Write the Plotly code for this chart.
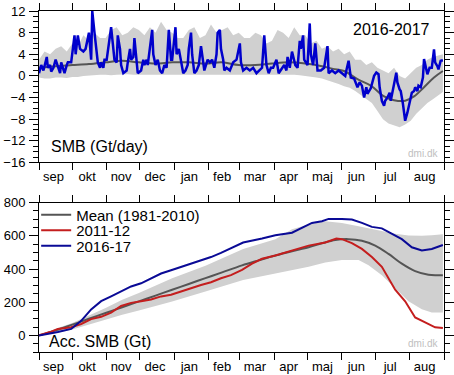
import plotly.graph_objects as go

# ---------------- data ----------------
MONTHS = ["sep", "okt", "nov", "dec", "jan", "feb", "mar", "apr", "maj", "jun", "jul", "aug"]
MONTH_LEN = [30, 31, 30, 31, 31, 28, 31, 30, 31, 30, 31, 31]

# daily SMB 2016-17 (day since 1 Sep, Gt/day)
SMB_DAYS = [0, 2, 4, 7, 8, 10, 11, 13, 15, 17, 19, 20, 22, 23, 25, 26, 29, 32, 33, 35, 37, 40, 42, 44, 45, 47,
            48, 50, 52, 53, 55, 56, 58, 59, 61, 64, 65, 67, 68, 70, 71, 73, 74, 76, 79, 80, 82, 83, 85, 86,
            88, 89, 92, 94, 95, 97, 98, 102, 103, 105, 107, 109, 111, 113, 115, 117, 119, 120, 123, 124,
            126, 128, 130, 132, 134, 135, 137, 138, 140, 142, 144, 146, 148, 149, 152, 154, 156, 158, 160,
            161, 163, 164, 166, 167, 169, 172, 175, 178, 181, 182, 184, 187, 190, 193, 196, 199, 201, 203,
            205, 207, 209, 211, 214, 216, 219, 221, 223, 224, 226, 228, 231, 233, 235, 236, 238, 239, 242,
            244, 245, 247, 249, 251, 254, 257, 260, 261, 264, 267, 270, 273, 276, 277, 279, 281, 284, 287,
            289, 291, 293, 295, 296, 299, 302, 304, 306, 307, 309, 311, 312, 314, 316, 317, 319, 320, 322,
            323, 325, 326, 328, 330, 332, 334, 336, 338, 339, 341, 342, 344, 346, 347, 349, 350, 352, 354,
            356, 357, 359, 360, 362, 364]
SMB_VALS = [0.5, 2.0, 1.0, 3.5, 1.5, 2.0, 0.8, 1.5, 3.0, 1.5, 0.5, 2.5, 1.0, 0.5, 2.0, 2.5, 2.5, 7.5, 4.0, 7.5, 5.0, 4.5, 5.0, 7.5, 8.0, 3.0,
            12.0, 8.0, 4.0, 2.5, 1.5, 2.5, 1.5, 3.0, 3.0, 7.0, 9.0, 5.0, 3.0, 2.5, 7.5, 5.0, 2.0, 0.5, 1.0, 2.5, 5.0, 3.0, 3.5, 7.0,
            2.0, 0.5, 1.0, 3.0, 2.0, 3.0, 2.0, 8.5, 4.0, 2.0, 3.0, 1.0, 0.5, 2.0, 1.5, 8.5, 3.0, 3.0, 9.0, 4.0,
            5.0, 3.0, 0.5, 1.0, 2.0, 5.0, 8.0, 4.0, 0.5, 1.0, 2.0, 5.5, 2.0, 1.0, 3.0, 2.5, 3.0, 1.5, 4.0,
            8.0, 8.5, 5.0, 3.0, 1.0, 1.5, 1.0, 2.5, 3.0, 6.0, 2.5, 1.0, 1.5, 1.0, 1.5, 0.5, 1.0, 1.5, 7.5,
            2.0, 0.5, 1.5, 1.5, 3.0, 0.5, 1.5, 2.0, 1.0, 3.5, 1.5, 4.5, 2.0, 1.5, 6.5, 5.0, 7.5, 3.0, 2.0,
            9.7, 4.0, 2.0, 6.0, 1.0, 1.0, 1.5, 5.5, 0.5, 1.0, 0.5, 1.0, 0.5, 0.0, 1.0, 2.8, -0.3, -0.5, -2.1,
            -1.2, -1.8, -4.0, -2.1, -3.3, -2.3, 0.0, 0.6, 0.3, -2.1, -4.6, -5.5, -4.6, -4.0, -3.1, -4.6, -2.8, -1.5, 0.6,
            -1.2, -2.5, -2.8, -5.2, -8.3, -6.8, -5.0, -3.1, -2.8, -2.1, -2.8, -1.8, -2.1, -0.3, 3.1, 1.2, 0.3, 1.5, 1.5,
            4.9, 2.5, 1.8, 1.2, 2.8, 2.9]

# mean daily SMB 1981-2010 and its range
MEAN_DAY_DAYS = [0, 15, 30, 45, 60, 75, 90, 105, 120, 135, 150, 165, 180, 195, 210, 225, 240, 255, 265,
                 275, 287, 299, 311, 320, 330, 338, 347, 356, 364]
MEAN_DAY_VALS = [1.5, 1.8, 2.0, 2.2, 2.5, 2.8, 2.5, 2.3, 2.5, 2.5, 2.3, 2.5, 2.0, 2.0, 2.3, 2.5, 2.3, 1.8, 1.3,
                 0.9, -0.6, -1.8, -3.8, -4.5, -4.6, -3.8, -2.1, -0.3, 0.9]
RANGE_DAY_DAYS = [0, 5, 10, 15, 20, 25, 30, 35, 40, 45, 50, 55, 60, 65, 70, 75, 80, 85, 90, 95, 100, 105, 110,
                  115, 120, 125, 130, 135, 140, 145, 150, 155, 160, 165, 170, 175, 180, 185, 190, 195, 200, 205,
                  210, 215, 220, 225, 230, 235, 240, 245, 250, 255, 260, 265, 270, 275, 280, 285, 290, 295, 300,
                  305, 310, 315, 320, 325, 330, 335, 340, 345, 350, 355, 360, 364]
RANGE_DAY_HI = [3.0, 4.5, 4.0, 5.0, 5.5, 4.5, 6.0, 5.5, 7.5, 6.5, 8.0, 7.0, 7.0, 8.5, 9.0, 7.5, 8.0, 9.0, 8.5, 7.5,
                9.0, 8.0, 10.0, 8.5, 8.0, 7.0, 7.0, 8.5, 9.0, 7.0, 7.5, 9.5, 8.0, 8.5, 9.0, 7.5, 8.0, 7.0, 7.0, 8.0,
                7.5, 6.0, 6.5, 8.5, 8.0, 7.0, 9.0, 7.5, 7.5, 6.0, 6.5, 5.0, 5.5, 4.5, 5.0, 4.0, 4.5, 3.0, 3.0, 2.0,
                2.5, 1.5, 1.0, 0.5, 1.5, 0.0, -0.5, 0.5, 1.5, 2.0, 3.0, 3.5, 3.8, 4.0]
RANGE_DAY_LO = [-0.3, -0.5, -0.5, -0.3, -0.3, -0.4, -0.2, -0.2, 0.0, 0.1, 0.2, 0.2, 0.2, 0.1, 0.2, 0.3, 0.3, 0.2,
                0.2, 0.3, 0.3, 0.2, 0.2, 0.3, 0.3, 0.2, 0.2, 0.3, 0.3, 0.2, 0.2, 0.3, 0.3, 0.2, 0.3, 0.2, 0.3, 0.2,
                0.2, 0.3, 0.3, 0.2, 0.2, 0.3, 0.3, 0.2, 0.2, 0.1, 0.0, -0.2, -0.3, -0.5, -0.8, -1.2, -1.5, -1.9,
                -2.2, -2.8, -3.5, -4.2, -5.0, -6.5, -8.0, -8.8, -9.2, -9.5, -9.0, -8.3, -7.0, -6.0, -5.0, -4.3,
                -3.5, -3.0]

# accumulated SMB (Gt)
ACC_MEAN_DAYS = [0, 15, 30, 45, 60, 75, 90, 105, 120, 135, 150, 165, 183, 198, 213, 228, 243, 255, 267,
                 279, 291, 303, 315, 327, 339, 351, 358, 364]
ACC_MEAN_VALS = [0, 30, 65, 100, 135, 170, 205, 240, 275, 310, 345, 380, 422, 452, 481, 507, 531, 555, 575,
                 580, 570, 541, 491, 432, 387, 365, 362, 363]
ACC_1112_DAYS = [0, 10, 17, 29, 38, 47, 56, 65, 74, 83, 92, 101, 110, 119, 128, 137, 146, 155, 164, 173, 183,
                 192, 201, 213, 228, 243, 258, 268, 273, 282, 291, 300, 309, 315, 321, 330, 339, 348, 357, 364]
ACC_1112_VALS = [0, 20, 39, 49, 69, 98, 112, 137, 177, 196, 206, 216, 235, 245, 265, 285, 304, 320, 344, 363, 395,
                 432, 462, 481, 511, 541, 560, 584, 580, 556, 521, 472, 413, 344, 275, 206, 108, 79, 49, 45]
ACC_1617_DAYS = [0, 10, 17, 29, 38, 47, 56, 65, 74, 83, 92, 101, 110, 119, 128, 137, 146, 155, 164, 173, 184,
                 201, 213, 228, 237, 246, 255, 261, 273, 282, 291, 300, 309, 318, 327, 336, 345, 354, 364]
ACC_1617_VALS = [0, 10, 20, 39, 88, 157, 206, 235, 265, 295, 314, 344, 373, 393, 413, 432, 452, 472, 497, 525, 560,
                 584, 604, 619, 649, 678, 688, 702, 702, 698, 678, 654, 645, 615, 580, 531, 512, 521, 545]
ACC_RANGE_DAYS = [0, 15, 30, 45, 60, 75, 90, 120, 150, 184, 213, 228, 243, 258, 273, 288, 297, 309, 321, 333,
                  345, 354, 364]
ACC_RANGE_HI = [0, 40, 75, 120, 165, 215, 255, 345, 420, 520, 580, 639, 668, 688, 678, 658, 645, 629, 612, 602,
                600, 604, 609]
ACC_RANGE_LO = [0, 15, 35, 65, 95, 125, 150, 205, 265, 334, 373, 395, 413, 440, 455, 455, 422, 363, 285, 206,
                157, 138, 138]

# ---------------- styling ----------------
FONT = "Liberation Sans, Arial, Helvetica, sans-serif"
BAND = "#d0d0d0"
MEANC = "#555555"
BLUE_TOP = "#0000cc"
BLUE = "#0a0a96"
RED = "#c41e1e"

bounds = [0]
for L in MONTH_LEN:
    bounds.append(bounds[-1] + L)
label_pos = [bounds[i] + MONTH_LEN[i] / 2 - 2 for i in range(12)]

fig = go.Figure()

# top panel
fig.add_trace(go.Scatter(x=RANGE_DAY_DAYS, y=RANGE_DAY_LO, mode="lines", line=dict(width=0, color=BAND),
                         showlegend=False, hoverinfo="skip", xaxis="x", yaxis="y"))
fig.add_trace(go.Scatter(x=RANGE_DAY_DAYS, y=RANGE_DAY_HI, mode="lines", line=dict(width=0, color=BAND),
                         fill="tonexty", fillcolor=BAND, showlegend=False, hoverinfo="skip", xaxis="x", yaxis="y"))
fig.add_trace(go.Scatter(x=MEAN_DAY_DAYS, y=MEAN_DAY_VALS, mode="lines", line=dict(width=2, color=MEANC, shape="spline"),
                         showlegend=False, xaxis="x", yaxis="y"))
fig.add_trace(go.Scatter(x=SMB_DAYS, y=SMB_VALS, mode="lines", line=dict(width=2.5, color=BLUE_TOP),
                         showlegend=False, xaxis="x", yaxis="y"))

# bottom panel
fig.add_trace(go.Scatter(x=ACC_RANGE_DAYS, y=ACC_RANGE_LO, mode="lines", line=dict(width=0, color=BAND),
                         showlegend=False, hoverinfo="skip", xaxis="x2", yaxis="y2"))
fig.add_trace(go.Scatter(x=ACC_RANGE_DAYS, y=ACC_RANGE_HI, mode="lines", line=dict(width=0, color=BAND),
                         fill="tonexty", fillcolor=BAND, showlegend=False, hoverinfo="skip", xaxis="x2", yaxis="y2"))
fig.add_trace(go.Scatter(x=ACC_MEAN_DAYS, y=ACC_MEAN_VALS, mode="lines", name="Mean (1981-2010)",
                         line=dict(width=2, color=MEANC, shape="spline"), xaxis="x2", yaxis="y2", legend="legend"))
fig.add_trace(go.Scatter(x=ACC_1112_DAYS, y=ACC_1112_VALS, mode="lines", name="2011-12",
                         line=dict(width=2, color=RED), xaxis="x2", yaxis="y2", legend="legend2"))
fig.add_trace(go.Scatter(x=ACC_1617_DAYS, y=ACC_1617_VALS, mode="lines", name="2016-17",
                         line=dict(width=2, color=BLUE), xaxis="x2", yaxis="y2", legend="legend3"))

xcommon = dict(range=[0, 365], tickmode="array", tickvals=label_pos, ticktext=MONTHS, ticks="",
               ticklabelstandoff=2, showline=True, linecolor="black", linewidth=1, mirror="ticks",
               showgrid=False, zeroline=False, tickfont=dict(size=13, color="black"), automargin=False,
               minor=dict(tickmode="array", tickvals=bounds, ticks="outside", ticklen=7,
                          tickcolor="black", tickwidth=1, showgrid=False))
ycommon = dict(showline=True, linecolor="black", linewidth=1, mirror="ticks", ticks="outside", ticklen=9,
               tickcolor="black", showgrid=False, zeroline=False, tickfont=dict(size=13, color="black"),
               ticklabelstandoff=1, automargin=False)


def leg(yc):
    return dict(x=-0.007, y=yc, xanchor="left", yanchor="middle", bgcolor="rgba(0,0,0,0)",
                font=dict(size=15, color="black"), itemwidth=30)


fig.update_layout(
    width=454, height=375,
    margin=dict(l=39, r=10, t=11, b=23, autoexpand=False),
    paper_bgcolor="white", plot_bgcolor="white",
    font=dict(family=FONT, color="black"),
    xaxis=dict(anchor="y", **xcommon),
    xaxis2=dict(anchor="y2", **xcommon),
    yaxis=dict(domain=[0.556, 1.0], range=[-16, 12], tickmode="linear", tick0=0, dtick=4,
               minor=dict(dtick=1, ticks="outside", ticklen=5, tickcolor="black"), **ycommon),
    yaxis2=dict(domain=[0.0, 0.438], range=[-100, 800], tickmode="array", tickvals=[0, 200, 400, 600, 800],
                minor=dict(tickmode="linear", tick0=0, dtick=50, ticks="outside", ticklen=5, tickcolor="black"),
                **ycommon),
    showlegend=True,
    legend=leg((352 - 215) / 341),
    legend2=leg((352 - 230.5) / 341),
    legend3=leg((352 - 246) / 341),
    annotations=[
        dict(text="SMB (Gt/day)", xref="x domain", yref="y domain", x=0.024, y=0.103,
             xanchor="left", yanchor="middle", showarrow=False, font=dict(size=16, color="black")),
        dict(text="2016-2017", xref="x domain", yref="y domain", x=0.77, y=0.879,
             xanchor="left", yanchor="middle", showarrow=False, font=dict(size=16, color="black")),
        dict(text="dmi.dk", xref="x domain", yref="y domain", x=0.99, y=0.061,
             xanchor="right", yanchor="middle", showarrow=False, font=dict(size=10, color="#c0c0c0")),
        dict(text="Acc. SMB (Gt)", xref="x2 domain", yref="y2 domain", x=0.02, y=0.071,
             xanchor="left", yanchor="middle", showarrow=False, font=dict(size=16, color="black")),
        dict(text="dmi.dk", xref="x2 domain", yref="y2 domain", x=0.99, y=0.06,
             xanchor="right", yanchor="middle", showarrow=False, font=dict(size=10, color="#c0c0c0")),
    ],
)

fig.write_html("out.html", config={"displayModeBar": False},
               post_script="document.body.style.margin='0px';")
